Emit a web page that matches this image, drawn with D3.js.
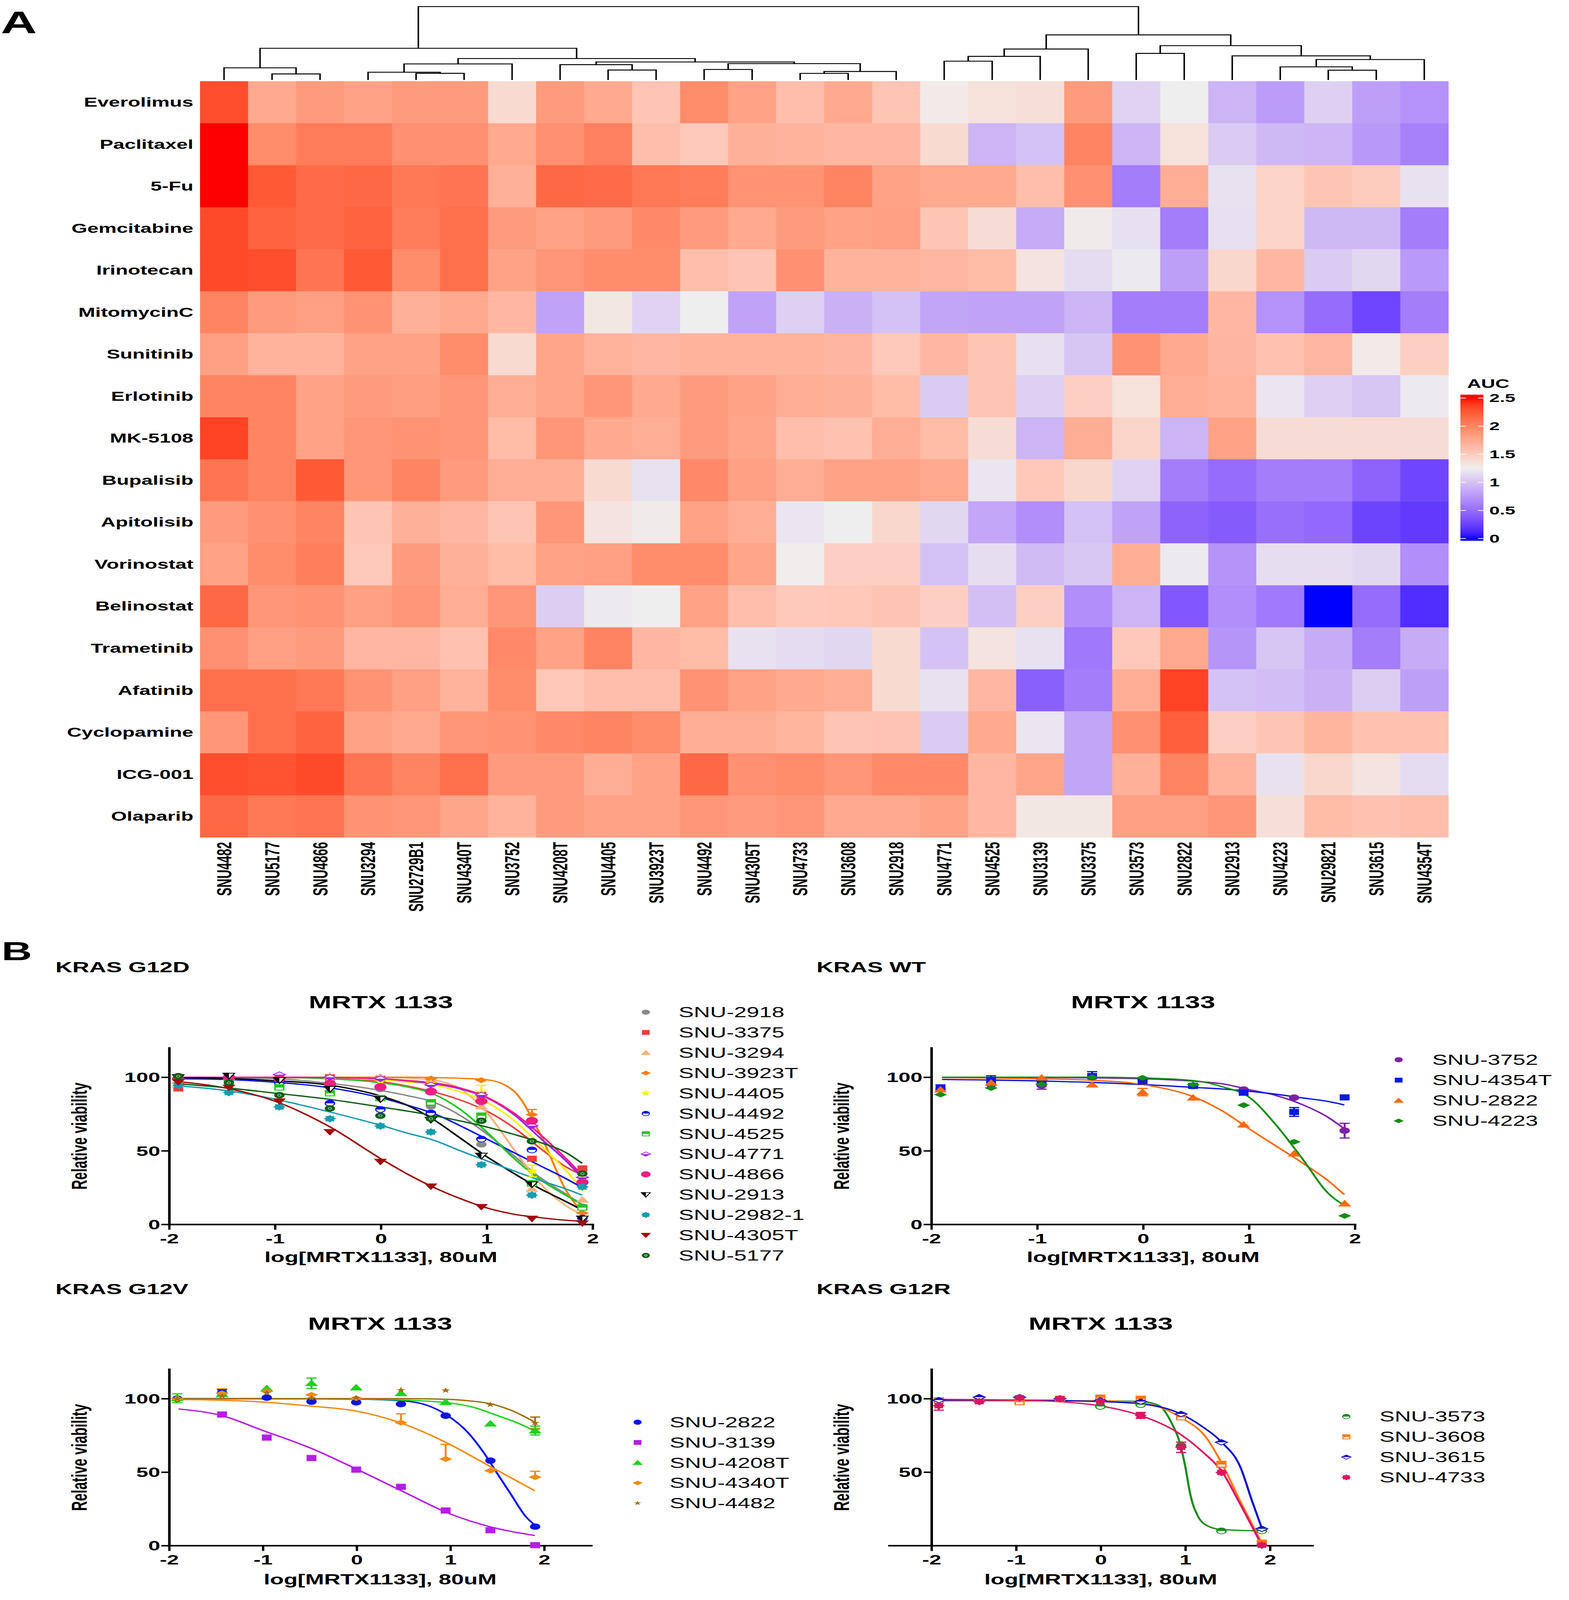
<!DOCTYPE html>
<html>
<head>
<meta charset="utf-8">
<script src="https://cdn.jsdelivr.net/npm/d3@7"></script>
<style>
html,body{margin:0;padding:0;background:#fff;overflow:hidden;}
svg{display:block;font-family:"Liberation Sans",Arial,sans-serif;}
</style>
</head>
<body>
<svg id="fig"></svg>
<script>
// ---------- panel A : AUC heatmap ----------
const drugs = ['Everolimus','Paclitaxel','5-Fu','Gemcitabine','Irinotecan','MitomycinC','Sunitinib','Erlotinib','MK-5108',
  'Bupalisib','Apitolisib','Vorinostat','Belinostat','Trametinib','Afatinib','Cyclopamine','ICG-001','Olaparib'];
const cellLines = ['SNU4482','SNU5177','SNU4866','SNU3294','SNU2729B1','SNU4340T','SNU3752','SNU4208T','SNU4405','SNU3923T',
  'SNU4492','SNU4305T','SNU4733','SNU3608','SNU2918','SNU4771','SNU4525','SNU3139','SNU3375','SNU3573','SNU2822','SNU2913',
  'SNU4223','SNU29821','SNU3615','SNU4354T'];
const aucValues = [
  [2.3,1.75,1.85,1.8,1.85,1.85,1.4,1.85,1.75,1.55,1.95,1.8,1.6,1.75,1.55,1.28,1.35,1.36,1.85,1.1,1.25,0.92,0.78,1.08,0.8,0.72],
  [2.5,1.95,2.05,2.05,1.92,1.92,1.75,1.92,2.02,1.6,1.52,1.7,1.68,1.65,1.65,1.4,0.92,1.0,2.0,0.92,1.35,1.05,0.95,0.92,0.76,0.62],
  [2.5,2.25,2.15,2.17,2.07,2.1,1.7,2.17,2.15,2.07,2.05,1.9,1.9,2.0,1.8,1.75,1.75,1.6,1.92,0.6,1.72,1.18,1.45,1.55,1.5,1.18],
  [2.32,2.2,2.15,2.2,2.05,2.13,1.85,1.8,1.85,1.97,1.85,1.75,1.85,1.8,1.82,1.55,1.38,0.87,1.27,1.17,0.6,1.17,1.45,0.95,0.95,0.6],
  [2.32,2.3,2.1,2.25,1.95,2.13,1.8,1.88,1.95,1.95,1.6,1.55,1.92,1.68,1.68,1.65,1.62,1.33,1.15,1.22,0.8,1.42,1.65,1.05,1.12,0.77],
  [2.0,1.85,1.82,1.9,1.7,1.75,1.65,0.82,1.3,1.1,1.25,0.82,1.08,0.9,1.0,0.83,0.82,0.82,0.92,0.6,0.6,1.65,0.72,0.5,0.28,0.6],
  [1.82,1.68,1.68,1.8,1.8,1.95,1.4,1.78,1.68,1.65,1.68,1.68,1.68,1.66,1.52,1.65,1.55,1.17,1.02,1.9,1.75,1.66,1.57,1.65,1.28,1.48],
  [2.0,2.0,1.8,1.85,1.83,1.88,1.72,1.78,1.88,1.75,1.85,1.8,1.72,1.7,1.62,1.05,1.55,1.08,1.48,1.35,1.72,1.68,1.2,1.08,1.02,1.22],
  [2.35,2.0,1.8,1.88,1.9,1.88,1.62,1.88,1.75,1.72,1.85,1.78,1.6,1.57,1.72,1.62,1.38,0.92,1.72,1.44,0.92,1.8,1.38,1.38,1.38,1.38],
  [2.1,2.0,2.25,1.88,2.0,1.85,1.72,1.72,1.4,1.18,1.97,1.82,1.72,1.8,1.8,1.75,1.2,1.53,1.42,1.1,0.6,0.5,0.6,0.6,0.45,0.28],
  [1.85,1.92,2.0,1.55,1.7,1.65,1.55,1.88,1.33,1.27,1.8,1.72,1.2,1.25,1.42,1.12,0.84,0.7,1.0,0.82,0.45,0.4,0.52,0.48,0.27,0.22],
  [1.8,1.95,2.03,1.52,1.85,1.7,1.62,1.8,1.82,1.95,1.95,1.78,1.26,1.48,1.48,1.0,1.16,0.96,1.03,1.72,1.22,0.73,1.16,1.16,1.12,0.7],
  [2.17,1.88,1.9,1.82,1.88,1.72,1.88,1.07,1.22,1.25,1.8,1.6,1.52,1.53,1.56,1.48,0.98,1.48,0.7,0.92,0.38,0.7,0.58,0.0,0.5,0.15],
  [1.92,1.82,1.85,1.65,1.65,1.57,1.97,1.8,2.0,1.65,1.62,1.18,1.15,1.12,1.4,1.0,1.33,1.18,0.57,1.52,1.75,0.74,1.02,0.87,0.6,0.87],
  [2.13,2.13,2.07,1.9,1.82,1.68,1.95,1.53,1.6,1.6,1.9,1.8,1.75,1.72,1.4,1.18,1.65,0.43,0.6,1.72,2.35,1.0,0.97,0.9,1.07,0.8],
  [1.88,2.13,2.2,1.8,1.75,1.88,1.9,1.97,2.0,1.95,1.72,1.72,1.67,1.55,1.56,1.05,1.75,1.2,0.83,1.92,2.22,1.48,1.55,1.67,1.57,1.57],
  [2.3,2.28,2.32,2.1,2.0,2.13,1.85,1.85,1.72,1.8,2.17,1.92,1.95,1.88,1.97,1.97,1.65,1.78,0.83,1.7,2.0,1.68,1.18,1.42,1.33,1.15],
  [2.17,2.07,2.1,1.9,1.88,1.78,1.68,1.85,1.8,1.8,1.88,1.85,1.88,1.75,1.75,1.8,1.65,1.3,1.3,1.82,1.82,1.88,1.36,1.62,1.57,1.6]
];
const aucTicks = [0,0.5,1,1.5,2,2.5];
// column dendrogram, hclust style: negative = leaf (1-based column), positive = earlier merge
const dendroMerges = [
  [-2,-3,0.83],[-1,1,1.66],[-5,-6,0.91],[-4,3,1.06],[4,-7,2.19],[-9,-10,1.36],[-8,6,2.09],[-11,-12,1.43],
  [-13,-14,0.90],[9,-15,1.16],[8,10,2.23],[7,11,2.46],[5,12,2.92],[2,13,4.32],[-16,-17,2.56],[15,-18,3.22],
  [16,-19,4.22],[-20,-21,3.62],[-24,-25,1.33],[-23,19,1.79],[20,-26,2.79],[-22,21,3.29],[18,22,4.68],[17,23,6.15],[14,24,10.0]
];

// ---------- panel B : dose response ----------
const doses = [-1.914,-1.436,-0.959,-0.482,-0.005,0.472,0.949,1.426,1.903];
const xTicks = [-2,-1,0,1,2];

const g12dLines = ['SNU-2918','SNU-3375','SNU-3294','SNU-3923T','SNU-4405','SNU-4492','SNU-4525','SNU-4771','SNU-4866','SNU-2913','SNU-2982-1','SNU-4305T','SNU-5177'];
const g12dColors = ['#8a8a8a','#f03c3c','#f5b27d','#f57f10','#f5f000','#0a14f0','#1ec81e','#a020f0','#f01e82','#000000','#1a9bb0','#a00a0a','#0f5f14'];
const g12dShapes = ['circle','square','triUp','diamond','star','circleHalf','squareHalf','diamondHalfB','bigCircle','triDownHalf','cog','triDown','circleDot'];
const g12dPoints = [
  [99.5,100,99,97,92,80.2,54.4,28,12],
  [92.4,99,100,100,99,97,88,44.6,38],
  [95,100,100,101,100.4,99,80.2,24.1,16.8],
  [96,100,100,100,99,99,98,74.6,7.7],
  [98,100,100,100,97,96,90,36.3,25],
  [99,98,96,82.3,78.1,75.7,58,50.6,4.2],
  [100,99,93.1,89.2,85.8,83,73.9,27.9,11.5],
  [99,100,101.8,100,99,94.8,88,67,32],
  [99,100,99,95.5,93.4,90.3,83.7,70.4,28.6],
  [100,101,98,92,85.1,71.1,46.7,27.2,3.9],
  [94.5,89.6,79.8,71.8,66.9,62.8,40.5,19.9,25.5],
  [96.6,93,83.7,62.8,42.6,25.8,11.9,3.9,0.7],
  [100.7,96.2,87.8,78.8,73.9,71.8,70.4,56.5,34.5]
];
const g12dCurveX = [-1.9,-1.5,-1,-0.5,0,0.25,0.5,0.75,1,1.25,1.5,1.75,1.9];
const g12dCurves = [
  [99.8,99.6,99,96,91,87.5,83,74,61.5,47,32,20.5,13.5],
  [100,100,99.8,99.2,97,94,90,84.5,77,66,52,39,33.5],
  [100,100,100,100,99.8,99.3,98,92,76,51.6,28,12.6,6.5],
  [100,100,100,100,100,100,99.8,99.3,98.3,91,62,23,8],
  [100,100,100,99.5,98.3,96.8,94.8,90,83,71,54.4,36.3,23.7],
  [99,98.5,96.6,93,86,81,75.3,67,58,49,40,31,25],
  [100,100,99.9,99,96.2,93.4,88.5,78.1,62.8,45.3,30.7,19.6,13.3],
  [100,100,100,99.7,99,97.5,95.5,92,86,75,59,43,32],
  [100,100,100,99.7,99,97.8,96.2,92.7,86.4,76,61.4,44.6,33.5],
  [99.7,99.3,97.6,94.8,87.2,80.9,71.1,58.6,46,34.9,24.4,15.4,9.8],
  [94.1,91.3,85.1,76.7,67.3,62,57.2,50,43.2,36.5,30,24,19.9],
  [96.9,93.1,83.7,67,44.6,34.2,25.1,17.5,11.2,7,4.6,2.8,2.1],
  [95.5,93.1,89.2,85.1,79.8,77,73.9,70.3,66.2,61.3,55.8,48.7,41.5]
];
const g12dErrors = [[3,7,3.5,0],[4,6,4.5,0],[4,7,4,4]]; // [series, dose, up, down]

const wtLines = ['SNU-3752','SNU-4354T','SNU-2822','SNU-4223'];
const wtColors = ['#7a22a6','#0a1ae0','#ff6a0a','#158c15'];
const wtShapes = ['circle','square','triUp','diamond'];
const wtPoints = [
  [92,95,94.4,100,98,94.1,91.6,86.1,63.7],
  [92.8,98,97,100.8,97.1,94.1,89.5,76.4,86.3],
  [91.6,96.2,99.7,95,89.9,86.1,67.8,48.1,14.2],
  [88.2,92.7,95.2,100,99.6,95,81,56.1,5.8]
];
const wtCurveX = [-1.9,-1,-0.5,0,0.5,0.75,1,1.25,1.5,1.75,1.9];
const wtCurves = [
  [100,99.8,99.6,99,97.2,95.5,91.6,87.7,81.5,72.6,65],
  [98.5,97.5,96.5,95,93,92,90.5,88.5,86,83.5,81.2],
  [99.8,99,98,95,86,77,65,53.5,42,29.5,20.2],
  [100,100,100,99.5,97.5,93.5,86.5,68,45,21,12.9]
];
const wtErrors = [[0,8,5,5],[1,7,3,3],[1,1,3,3],[0,2,2.5,2.5],[1,3,3,0],[2,4,2.5,2.5],[1,0,2,2]];

const g12vLines = ['SNU-2822','SNU-3139','SNU-4208T','SNU-4340T','SNU-4482'];
const g12vColors = ['#0a14e6','#b51ee6','#1ed21e','#f08c14','#a06e14'];
const g12vShapes = ['circle','square','triUp','diamond','smallStar'];
const g12vPoints = [
  [100,104,100.7,98,97.5,96.3,88.4,57.8,12.9],
  [null,89.2,73.5,59.6,51.7,40,23.9,10.5,0.3],
  [100.3,103,107,110.5,107.6,103.7,97.7,83,78.3],
  [100,103.7,105,102.6,100.3,83.7,58.9,51,46.6],
  [100,101.8,104,100.3,100.6,105.9,105.6,95.9,83.5]
];
const g12vCurveX = [
  [-1.9,-1,0,0.5,0.75,0.95,1.2,1.35,1.5,1.65,1.8,1.9],
  [-1.9,-1.43,-1,-0.5,0,0.5,1,1.43,1.9],
  [-1.9,0,0.5,1,1.25,1.5,1.75,1.9],
  [-1.9,-1,-0.5,0,0.47,0.95,1.42,1.9],
  [-1.9,0,0.5,1,1.2,1.43,1.65,1.9]
];
const g12vCurves = [
  [100,100,99.7,98.5,95.5,89.3,76,63.7,49,34.4,20,13.9],
  [93,88.3,78.3,66.6,52,36.6,21.5,12.7,6.9],
  [100,99.7,99,97,94,88.5,82.5,78],
  [99.5,97.7,95,91.5,83.5,70.3,54,37.3],
  [100,100,100,99.5,98.5,96.5,92,84]
];
const g12vErrors = [[3,5,6,0],[3,6,10,0],[3,8,4,0],[3,1,3,0],[2,3,3.5,3.5],[2,0,3,3],[4,8,4,4],[2,8,3,3],[0,1,2,2]];

const g12rLines = ['SNU-3573','SNU-3608','SNU-3615','SNU-4733'];
const g12rColors = ['#1a8c1a','#ff7814','#1010c8','#dc1464'];
const g12rShapes = ['circleHalf','squareHalf','diamondHalf','cog'];
const g12rPoints = [
  [98.8,98.8,99.9,99.9,94.7,95.9,68,10,10],
  [98.8,98.8,97.7,99.9,100.6,99.9,87.4,55.3,1.9],
  [99,101,101,100,98.8,98,89.6,70.3,11.4],
  [95.2,98,100.6,99.9,98,88.6,66.9,49.8,0.3]
];
const g12rCurveX = [
  [-1.9,0,0.48,0.69,0.83,0.95,1.0,1.06,1.15,1.27,1.42,1.9],
  [-1.9,-1,0,0.5,0.75,0.95,1.24,1.43,1.65,1.9],
  [-1.9,-1,0,0.47,0.95,1.2,1.43,1.65,1.79,1.9],
  [-1.9,-1,-0.5,0,0.47,0.95,1.2,1.43,1.65,1.9]
];
const g12rCurves = [
  [98.5,98.5,98.1,95.2,84.2,66.6,53.4,34.4,19.8,13.2,11,10],
  [98.5,98.5,98.5,97,93,87,74,56,30,2],
  [99,99,98,96.5,89.5,81,70.3,53.4,30,12.4],
  [99.5,99,98,95,88.5,75.4,64,50.5,28,0.5]
];
const g12rErrors = [[3,0,3,3],[3,5,2,2],[3,6,3.5,3.5],[1,7,2,2]];

// the figure is laid out on a 4016 x 6560 canvas; the viewBox maps it onto whatever window we get
const svg = d3.select('#fig')
  .attr('width', window.innerWidth || 4016)
  .attr('height', window.innerHeight || 6560)
  .attr('viewBox','0 0 4016 6560')
  .attr('preserveAspectRatio','none');
const BOLD = 'bold';

// ============ panel A ============
svg.append('text').attr('x',2).attr('y',136).attr('font-size',128).attr('font-weight',BOLD).text('A');

const colX = d3.scaleBand().domain(cellLines).range([512,3707]);
const rowY = d3.scaleBand().domain(drugs).range([333,3433]);
const aucColor = d3.scaleLinear().domain([0,1.25,2.5]).range(['#0000ff','#efeeee','#ff0000'])
  .interpolate(d3.interpolateLab).clamp(true);

const cells = [];
drugs.forEach((d,i)=>cellLines.forEach((c,j)=>cells.push({drug:d,line:c,v:aucValues[i][j]})));
svg.append('g').selectAll('rect').data(cells).enter().append('rect')
  .attr('x',d=>colX(d.line)).attr('y',d=>rowY(d.drug))
  .attr('width',colX.bandwidth()+0.8).attr('height',rowY.bandwidth()+0.8)
  .attr('fill',d=>aucColor(d.v));

svg.append('g').selectAll('text').data(drugs).enter().append('text')
  .attr('x',495).attr('y',d=>rowY(d)+rowY.bandwidth()/2).attr('dy','0.35em')
  .attr('text-anchor','end').attr('font-size',52).attr('font-weight',BOLD).text(d=>d);

svg.append('g').selectAll('text').data(cellLines).enter().append('text')
  .attr('transform',d=>`translate(${colX(d)+colX.bandwidth()/2},3452) rotate(-90)`)
  .attr('dy','0.36em').attr('text-anchor','end').attr('font-size',51).attr('font-weight',BOLD).text(d=>d);

// dendrogram
const hY = d3.scaleLinear().domain([0,10]).range([328,27]);
const merged = [];
function nodePos(k){
  if(k<0) return {x:colX(cellLines[-k-1])+colX.bandwidth()/2, y:hY(0)};
  return merged[k-1];
}
const dendro = svg.append('g').attr('fill','none').attr('stroke','#000').attr('stroke-width',3.8);
dendroMerges.forEach(m=>{
  const a = nodePos(m[0]), b = nodePos(m[1]), yy = hY(m[2]);
  merged.push({x:(a.x+b.x)/2, y:yy});
  dendro.append('path').attr('d',`M${a.x},${a.y}V${yy}H${b.x}V${b.y}`);
});

// colour key
const barY = d3.scaleLinear().domain([0,2.5]).range([2208,1632]);
const grad = svg.append('defs').append('linearGradient').attr('id','aucGrad')
  .attr('x1',0).attr('x2',0).attr('y1',1).attr('y2',0);
d3.range(0,1.0001,0.02).forEach(t=>{
  grad.append('stop').attr('offset',t).attr('stop-color',aucColor(-0.04+t*2.6));
});
svg.append('rect').attr('x',3738).attr('width',59).attr('y',barY(2.56)).attr('height',barY(-0.04)-barY(2.56))
  .attr('fill','url(#aucGrad)');
const keyTicks = svg.append('g');
aucTicks.forEach(t=>{
  keyTicks.append('line').attr('x1',3738).attr('x2',3752).attr('y1',barY(t)).attr('y2',barY(t)).attr('stroke','#fff').attr('stroke-width',3);
  keyTicks.append('line').attr('x1',3783).attr('x2',3797).attr('y1',barY(t)).attr('y2',barY(t)).attr('stroke','#fff').attr('stroke-width',3);
  keyTicks.append('text').attr('x',3812).attr('y',barY(t)).attr('dy','0.35em').attr('font-size',48)
    .attr('font-weight',BOLD).text(t);
});
svg.append('text').attr('x',3755).attr('y',1590).attr('font-size',50).attr('font-weight',BOLD).text('AUC');

// ============ panel B ============
svg.append('text').attr('x',4).attr('y',3936).attr('font-size',108).attr('font-weight',BOLD).text('B');

function cogPath(r){
  const pts = d3.range(16).map(k=>[k*Math.PI/8, k%2 ? r*0.76 : r]);
  return d3.lineRadial().curve(d3.curveCardinalClosed)(pts);
}

function drawMarker(g, shape, c, r){
  const sw = r*0.22;
  switch(shape){
    case 'circle': g.append('circle').attr('r',r*0.95).attr('fill',c); break;
    case 'bigCircle': g.append('circle').attr('r',r*1.12).attr('fill',c); break;
    case 'square': g.append('rect').attr('x',-r*0.9).attr('y',-r*0.9).attr('width',r*1.8).attr('height',r*1.8).attr('fill',c); break;
    case 'triUp': g.append('path').attr('d',`M0,${-r*1.05}L${r*1.2},${r*0.85}L${-r*1.2},${r*0.85}Z`).attr('fill',c); break;
    case 'triDown': g.append('path').attr('d',`M${-r*1.2},${-r*0.85}L${r*1.2},${-r*0.85}L0,${r*1.05}Z`).attr('fill',c); break;
    case 'diamond': g.append('path').attr('d',`M0,${-r*0.85}L${r*1.2},0L0,${r*0.85}L${-r*1.2},0Z`).attr('fill',c); break;
    case 'star': g.append('path').attr('d',d3.symbol(d3.symbolStar,r*r*1.6)()).attr('fill',c); break;
    case 'smallStar': g.append('path').attr('d',d3.symbol(d3.symbolStar,r*r*0.9)()).attr('fill',c); break;
    case 'cog': g.append('path').attr('d',cogPath(r*1.1)).attr('fill',c); break;
    case 'circleHalf':
      g.append('circle').attr('r',r*0.85).attr('fill','#fff').attr('stroke',c).attr('stroke-width',sw);
      g.append('path').attr('d',`M${-r*0.95},0A${r*0.95},${r*0.95} 0 0 1 ${r*0.95},0Z`).attr('fill',c); break;
    case 'squareHalf':
      g.append('rect').attr('x',-r*0.8).attr('y',-r*0.8).attr('width',r*1.6).attr('height',r*1.6)
        .attr('fill','#fff').attr('stroke',c).attr('stroke-width',sw*1.2);
      g.append('rect').attr('x',-r*0.9).attr('y',-r*0.9).attr('width',r*1.8).attr('height',r*0.95).attr('fill',c); break;
    case 'diamondHalf':
    case 'diamondHalfB': {
      g.append('path').attr('d',`M0,${-r*0.8}L${r*1.1},0L0,${r*0.8}L${-r*1.1},0Z`).attr('fill','#fff')
        .attr('stroke',c).attr('stroke-width',sw);
      const s = shape==='diamondHalf' ? -1 : 1;
      g.append('path').attr('d',`M${-r*1.15},0L0,${s*r*0.88}L${r*1.15},0Z`).attr('fill',c); break;
    }
    case 'triDownHalf':
      g.append('path').attr('d',`M${-r*1.05},${-r*0.75}L${r*1.05},${-r*0.75}L0,${r*0.95}Z`).attr('fill','#fff')
        .attr('stroke',c).attr('stroke-width',sw);
      g.append('path').attr('d',`M${-r*1.15},${-r*0.85}L0,${-r*0.85}L0,${r*1.05}Z`).attr('fill',c); break;
    case 'circleDot':
      g.append('circle').attr('r',r*0.95).attr('fill',c);
      g.append('circle').attr('r',r*0.3).attr('fill','none').attr('stroke','#d8ecd8').attr('stroke-width',1.6); break;
  }
}

function drawChart(o){
  const g = svg.append('g');
  const x = d3.scaleLinear().domain(o.xDomain).range(o.xRange);
  const y = d3.scaleLinear().domain([0,120]).range(o.yRange);
  const midX = (o.xRange[0]+o.xRange[1])/2;

  g.append('text').attr('x',o.groupX).attr('y',o.groupY).attr('font-size',60).attr('font-weight',BOLD).text(o.group);
  g.append('text').attr('x',midX).attr('y',o.titleY).attr('text-anchor','middle').attr('font-size',70)
    .attr('font-weight',BOLD).text('MRTX 1133');

  const xa = g.append('g').attr('transform',`translate(0,${y(0)})`)
    .call(d3.axisBottom(x).tickValues(xTicks).tickSize(22).tickSizeOuter(0).tickPadding(16).tickFormat(d=>String(d)));
  const ya = g.append('g').attr('transform',`translate(${x(-2)},0)`)
    .call(d3.axisLeft(y).tickValues(o.yTicks).tickSize(20).tickSizeOuter(0).tickPadding(3).tickFormat(d=>String(d)));
  [xa,ya].forEach(a=>{
    a.attr('font-family',null).attr('font-size',null);
    a.select('.domain').attr('stroke-width',6.5).attr('stroke-linecap','square');
    a.selectAll('.tick line').attr('stroke-width',6);
    a.selectAll('.tick text').attr('font-size',55).attr('font-weight',BOLD).attr('fill','#000');
  });
  ya.selectAll('.tick text').attr('dy','0.36em');

  g.append('text').attr('transform',`translate(${x(-2)-211},${(o.yRange[0]+o.yRange[1])/2}) rotate(-90)`)
    .attr('text-anchor','middle').attr('font-size',56).attr('font-weight',BOLD).text('Relative viability');
  g.append('text').attr('x',midX).attr('y',o.xTitleY).attr('text-anchor','middle').attr('font-size',58)
    .attr('font-weight',BOLD).text('log[MRTX1133], 80uM');

  const line = d3.line().x(d=>x(d[0])).y(d=>y(d[1])).curve(d3.curveMonotoneX);
  const curveG = g.append('g').attr('fill','none').attr('stroke-width',5.5).attr('stroke-linejoin','round');
  o.curves.forEach((vals,i)=>{
    const xs = Array.isArray(o.curveX[0]) ? o.curveX[i] : o.curveX;
    curveG.append('path').attr('d',line(xs.map((xv,k)=>[xv,vals[k]]))).attr('stroke',o.colors[i]);
  });

  // error bars
  const errG = g.append('g').attr('stroke-width',5);
  o.errors.forEach(e=>{
    const [s,k,up,dn] = e, v = o.points[s][k], cx = x(doses[k]);
    errG.append('line').attr('x1',cx).attr('x2',cx).attr('y1',y(v+up)).attr('y2',y(v-dn)).attr('stroke',o.colors[s]);
    errG.append('line').attr('x1',cx-13).attr('x2',cx+13).attr('y1',y(v+up)).attr('y2',y(v+up)).attr('stroke',o.colors[s]);
    if(dn>0) errG.append('line').attr('x1',cx-13).attr('x2',cx+13).attr('y1',y(v-dn)).attr('y2',y(v-dn)).attr('stroke',o.colors[s]);
  });

  const markG = g.append('g');
  o.points.forEach((vals,i)=>{
    vals.forEach((v,k)=>{
      if(v===null) return;
      const m = markG.append('g').attr('transform',`translate(${x(doses[k])},${y(v)})`);
      drawMarker(m, o.shapes[i], o.colors[i], 14);
    });
  });

  const leg = g.append('g');
  o.lines.forEach((name,i)=>{
    const ly = o.legY + i*o.legStep;
    drawMarker(leg.append('g').attr('transform',`translate(${o.legX},${ly})`), o.shapes[i], o.colors[i], 11);
    leg.append('text').attr('x',o.legTextX).attr('y',ly).attr('dy','0.36em').attr('font-size',58).text(name);
  });
}

drawChart({group:'KRAS G12D', groupX:142, groupY:3987, titleY:4134, xTitleY:5175,
  xDomain:[-2,2], xRange:[433,1517], yRange:[5020,4296], yTicks:[0,50,100],
  lines:g12dLines, colors:g12dColors, shapes:g12dShapes, points:g12dPoints,
  curveX:g12dCurveX, curves:g12dCurves, errors:g12dErrors,
  legX:1653, legTextX:1737, legY:4150, legStep:83.1});

drawChart({group:'KRAS WT', groupX:2090, groupY:3987, titleY:4134, xTitleY:5175,
  xDomain:[-2,2], xRange:[2384,3468], yRange:[5020,4296], yTicks:[0,50,100],
  lines:wtLines, colors:wtColors, shapes:wtShapes, points:wtPoints,
  curveX:wtCurveX, curves:wtCurves, errors:wtErrors,
  legX:3580, legTextX:3666, legY:4345, legStep:83.5});

drawChart({group:'KRAS G12V', groupX:142, groupY:5306, titleY:5451, xTitleY:6496,
  xDomain:[-2,2.5], xRange:[433,1513], yRange:[6337,5614], yTicks:[0,50,100],
  lines:g12vLines, colors:g12vColors, shapes:g12vShapes, points:g12vPoints,
  curveX:g12vCurveX, curves:g12vCurves, errors:g12vErrors,
  legX:1632, legTextX:1714, legY:5831, legStep:83});

drawChart({group:'KRAS G12R', groupX:2090, groupY:5306, titleY:5451, xTitleY:6496,
  xDomain:[-2.5,2.5], xRange:[2276,3359], yRange:[6337,5614], yTicks:[50,100],
  lines:g12rLines, colors:g12rColors, shapes:g12rShapes, points:g12rPoints,
  curveX:g12rCurveX, curves:g12rCurves, errors:g12rErrors,
  legX:3446, legTextX:3531, legY:5808, legStep:83});
</script>
</body>
</html>
